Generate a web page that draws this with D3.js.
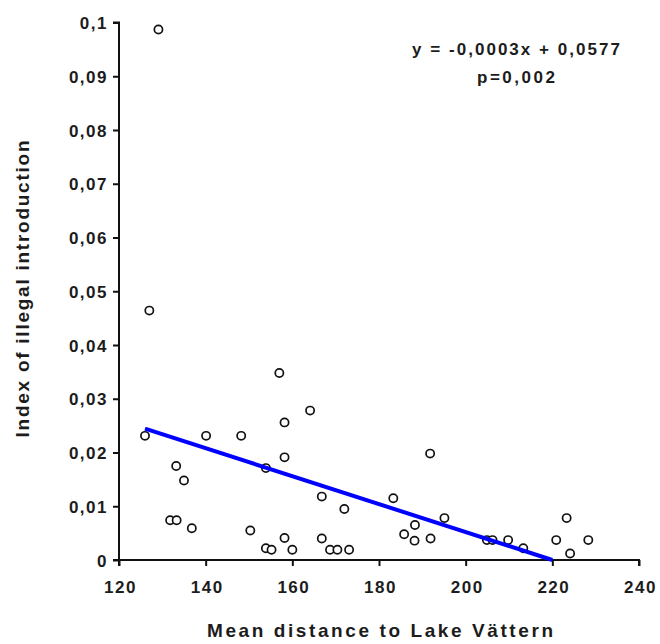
<!DOCTYPE html>
<html>
<head>
<meta charset="utf-8">
<script src="https://cdn.jsdelivr.net/npm/d3@7"></script>
<style>
  html, body { margin: 0; padding: 0; background: #fff; }
  svg { display: block; }
  text { font-family: "Liberation Sans", Arial, sans-serif; fill: #1c1c1c; }
</style>
</head>
<body>
<svg id="chart" width="660" height="644"></svg>
<script>
// ---- data ----
const distance = [129.1, 127.0, 126.0, 140.1, 148.2, 133.2, 135.0, 131.8, 133.3, 136.8,
                  150.3, 157.0, 164.1, 158.2, 158.2, 153.9, 166.8, 172.0, 153.9, 155.2,
                  158.2, 160.0, 166.8, 168.7, 170.4, 173.1, 191.8, 183.3, 195.1, 188.3,
                  185.8, 188.2, 191.9, 204.9, 206.2, 209.8, 223.3, 220.9, 228.3, 224.1, 213.3];
const illegalIndex = [0.0987, 0.0464, 0.0231, 0.0231, 0.0231, 0.0175, 0.0148, 0.0074, 0.0074, 0.0059,
                  0.0055, 0.0348, 0.0278, 0.0256, 0.0191, 0.0171, 0.0118, 0.0095, 0.0022, 0.0019,
                  0.0041, 0.0019, 0.0040, 0.0019, 0.0019, 0.0019, 0.0198, 0.0115, 0.0078, 0.0065,
                  0.0048, 0.0036, 0.0040, 0.0037, 0.0037, 0.0037, 0.0078, 0.0037, 0.0037, 0.0012, 0.0022];
const trendSlope = -0.00026;
const trendIntercept = 0.0572;
const xTicks = [120, 140, 160, 180, 200, 220, 240];
const yTicks = [0, 0.01, 0.02, 0.03, 0.04, 0.05, 0.06, 0.07, 0.08, 0.09, 0.1];
const yTickLabels = ["0", "0,01", "0,02", "0,03", "0,04", "0,05", "0,06", "0,07", "0,08", "0,09", "0,1"];
const equationText = "y = -0,0003x + 0,0577";
const pText = "p=0,002";
const xTitle = "Mean distance to Lake Vättern";
const yTitle = "Index of illegal introduction";

// ---- layout ----
const svg = d3.select("#chart");
const x = d3.scaleLinear().domain([120, 240]).range([119, 639]);
const y = d3.scaleLinear().domain([0, 0.1]).range([560, 22.5]);

// axes
const xAxis = d3.axisBottom(x).tickValues(xTicks).tickSize(6).tickFormat(d3.format("d"));
const yAxis = d3.axisLeft(y).tickValues(yTicks).tickSize(6)
  .tickFormat((d, i) => yTickLabels[i]);

const gx = svg.append("g").attr("transform", `translate(0,${y(0)})`).call(xAxis);
const gy = svg.append("g").attr("transform", `translate(${x(120)},0)`).call(yAxis);

[gx, gy].forEach(g => {
  g.select(".domain").attr("stroke", "#111").attr("stroke-width", 2);
  g.selectAll(".tick line").attr("stroke", "#111").attr("stroke-width", 2);
  g.selectAll(".tick text")
    .attr("font-size", 17).attr("font-weight", "bold")
    .style("letter-spacing", "1.5px").attr("fill", "#1c1c1c");
});
gx.select(".domain").attr("d", `M${x(120)},6V0H${x(240)}V6`);
gy.select(".domain").attr("d", `M-6,${y(0.1)}H0V${y(0)}H-6`);
gx.selectAll(".tick text").attr("y", 21).attr("dx", "1px");
gy.selectAll(".tick text").attr("x", -11).attr("dy", "0.36em");

// points
svg.append("g").selectAll("circle")
  .data(distance.map((d, i) => [d, illegalIndex[i]]))
  .join("circle")
  .attr("cx", d => x(d[0]))
  .attr("cy", d => y(d[1]))
  .attr("r", 4.1)
  .attr("fill", "#fff")
  .attr("stroke", "#111")
  .attr("stroke-width", 1.7);

// trend line
const xStart = d3.min(distance);
const xEnd = Math.min(d3.max(distance), -trendIntercept / trendSlope);
svg.append("line")
  .attr("x1", x(xStart)).attr("y1", y(trendSlope * xStart + trendIntercept))
  .attr("x2", x(xEnd)).attr("y2", y(trendSlope * xEnd + trendIntercept))
  .attr("stroke", "#0000ff").attr("stroke-width", 4);

// equation
svg.append("text").attr("x", 516).attr("y", 55).attr("text-anchor", "middle")
  .attr("font-size", 17).attr("font-weight", "bold")
  .attr("textLength", 208).attr("lengthAdjust", "spacing").text(equationText);
svg.append("text").attr("x", 516).attr("y", 83).attr("text-anchor", "middle")
  .attr("font-size", 17).attr("font-weight", "bold")
  .attr("textLength", 78).attr("lengthAdjust", "spacing").text(pText);

// axis titles
svg.append("text").attr("x", 380).attr("y", 637).attr("text-anchor", "middle")
  .attr("font-size", 19).attr("font-weight", "bold")
  .attr("textLength", 346).attr("lengthAdjust", "spacing").text(xTitle);
svg.append("text").attr("transform", "translate(29,289) rotate(-90)").attr("text-anchor", "middle")
  .attr("font-size", 19).attr("font-weight", "bold")
  .attr("textLength", 297).attr("lengthAdjust", "spacing").text(yTitle);
</script>
</body>
</html>
